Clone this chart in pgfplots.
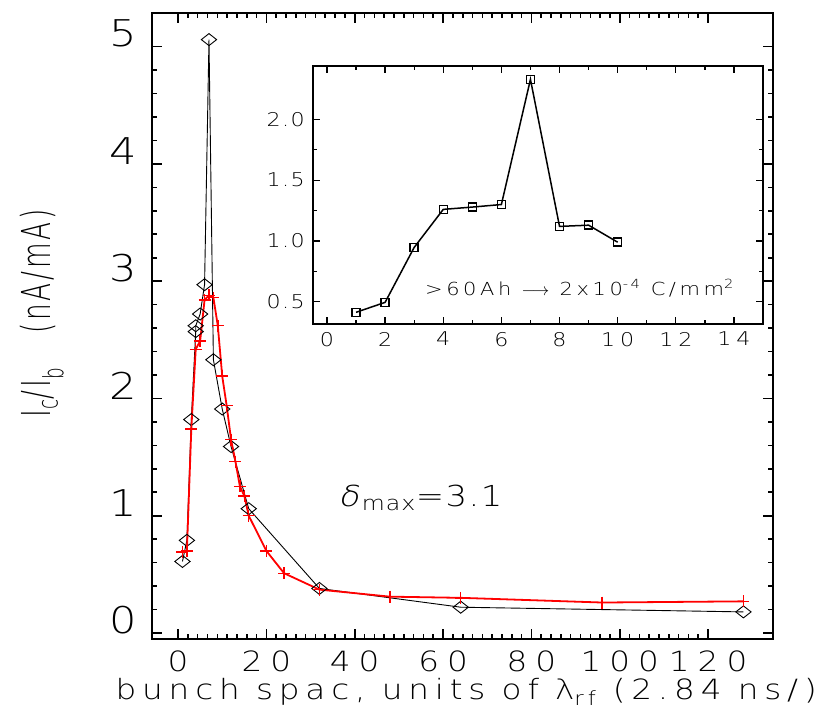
\documentclass[border=0pt]{standalone}
\usepackage{fontspec}
\usepackage{pgfplots}
\pgfplotsset{compat=1.18}
\setmainfont{Liberation Sans}
% widened faces for the plot lettering: #1 family, #2 horizontal stretch,
% #3 stretch along the rotated y label
\newcommand\setupfaces[3]{%
  \newfontfamily\ytickfont[FakeStretch=#2]{#1}%
  \newfontfamily\xtickfont[FakeStretch=#2,LetterSpace=29]{#1}%
  \newfontfamily\xlabfont[FakeStretch=#2,LetterSpace=21]{#1}%
  \newfontfamily\ylabfont[FakeStretch=#3,LetterSpace=7]{#1}%
  \newfontfamily\insetfont[FakeStretch=#2,LetterSpace=26]{#1}%
  \newfontfamily\insetyfont[FakeStretch=#2,LetterSpace=8]{#1}%
  \newfontfamily\notefont[FakeStretch=#2,LetterSpace=20]{#1}%
  \newfontfamily\deltafont[FakeStretch=#2,LetterSpace=5]{#1}%
  \newfontfamily\slantfont[FakeStretch=#2,FakeSlant=0.22]{#1}%
}
\IfFontExistsTF{DejaVu Sans ExtraLight}
  {\setupfaces{DejaVu Sans ExtraLight}{1.17}{0.66}}
  {\setupfaces{Liberation Sans}{1.35}{0.75}}

% I_c/I_b versus bunch spacing, diamonds
\pgfplotstableread{
x y
1 0.61
2 0.79
3 1.82
4 2.57
4 2.62
5 2.72
6 2.97
7 5.06
8 2.33
10 1.91
12 1.59
16 1.06
32 0.38
64 0.22
128 0.18
}\diamondrun

% I_c/I_b versus bunch spacing, crosses
\pgfplotstableread{
x y
1 0.69
2 0.70
3 1.74
4 2.42
5 2.49
6 2.84
7 2.88
8 2.86
9 2.62
10 2.19
11 1.94
12 1.65
13 1.46
14 1.25
15 1.17
16 1.00
20 0.70
24 0.51
32 0.37
48 0.31
64 0.30
96 0.26
128 0.27
}\crossrun

% inset series
\pgfplotstableread{
x y
1 0.413
2 0.495
3 0.947
4 1.26
5 1.279
6 1.30
7 2.33
8 1.12
9 1.13
10 0.99
}\insetrun

\begin{document}
\begin{tikzpicture}[x=1bp,y=1bp]
\useasboundingbox (0,0) rectangle (825,714);

\begin{axis}[
  at={(152bp,75bp)}, anchor=south west,
  scale only axis, width=621bp, height=626bp,
  xmin=-5.9, xmax=134.7, ymin=-0.051, ymax=5.287,
  xtick={0,20,...,120}, ytick={0,1,...,5},
  minor x tick num=8, minor y tick num=4,
  tick align=inside, xtick pos=both, ytick pos=both,
  xticklabel pos=lower, yticklabel pos=left,
  major tick length=10bp, minor tick length=5bp,
  axis line style={line width=2.2bp},
  tick style={black, line width=1.6bp},
  /pgf/number format/assume math mode=true,
  xticklabel style={font=\xtickfont\fontsize{28}{28}\selectfont,
    anchor=north, inner sep=0pt, yshift=-12bp},
  yticklabel style={font=\ytickfont\fontsize{37}{37}\selectfont,
    anchor=east, inner sep=0pt, xshift=-15bp, yshift=13bp},
  xlabel={bunch spac, units of λ\textsubscript{rf} (2.84 ns/)},
  xlabel style={at={(axis description cs:0.506,0)}, anchor=center,
    yshift=-53bp, inner sep=0pt, font=\xlabfont\fontsize{28}{28}\selectfont},
  ylabel={I\textsubscript{c}/I\textsubscript{b}\hspace*{34bp}(nA/mA)},
  ylabel style={at={(axis description cs:0,0.52)}, anchor=center,
    yshift=110bp, inner sep=0pt, font=\ylabfont\fontsize{40}{40}\selectfont},
]
\addplot[black, line width=0.9bp, mark=diamond, mark size=6bp,
  mark options={solid, xscale=1.7, line width=0.9bp}] table {\diamondrun};
\addplot[red, line width=1.8bp, mark=+, mark size=6bp,
  mark options={line width=1.4bp}] table {\crossrun};
\node[anchor=base west, inner sep=0pt, font=\deltafont\fontsize{29}{29}\selectfont]
  at (axis cs:36.2,1.075) {{\slantfont δ}\kern3bp\textsubscript{max}=3.1};
\end{axis}

\begin{axis}[
  at={(313bp,390bp)}, anchor=south west,
  scale only axis, width=450bp, height=258bp,
  xmin=-0.48, xmax=15, ymin=0.317, ymax=2.44,
  xtick={0,2,...,14}, ytick={0.5,1,1.5,2},
  minor x tick num=1, minor y tick num=1,
  tick align=inside, xtick pos=both, ytick pos=both,
  xticklabel pos=lower, yticklabel pos=left,
  major tick length=7bp, minor tick length=4bp,
  axis line style={line width=1.8bp},
  tick style={black, line width=1.3bp},
  axis background/.style={fill=white},
  /pgf/number format/assume math mode=true,
  xticklabel style={font=\insetfont\fontsize{19}{19}\selectfont,
    anchor=north, inner sep=0pt, yshift=-8bp},
  yticklabel style={font=\insetyfont\fontsize{19}{19}\selectfont,
    anchor=east, inner sep=0pt, xshift=-8bp,
    /pgf/number format/fixed, /pgf/number format/fixed zerofill,
    /pgf/number format/precision=1},
]
\addplot[black, line width=1.5bp, mark=square, mark size=4bp,
  mark options={solid, line width=1.4bp}] table {\insetrun};
\node[anchor=base west, inner sep=0pt, font=\notefont\fontsize{18}{18}\selectfont]
  at (axis cs:3.37,0.555)
  {>60Ah \(\longrightarrow\) 2x10\textsuperscript{-4} C/mm\textsuperscript{2}};
\end{axis}
\end{tikzpicture}
\end{document}
